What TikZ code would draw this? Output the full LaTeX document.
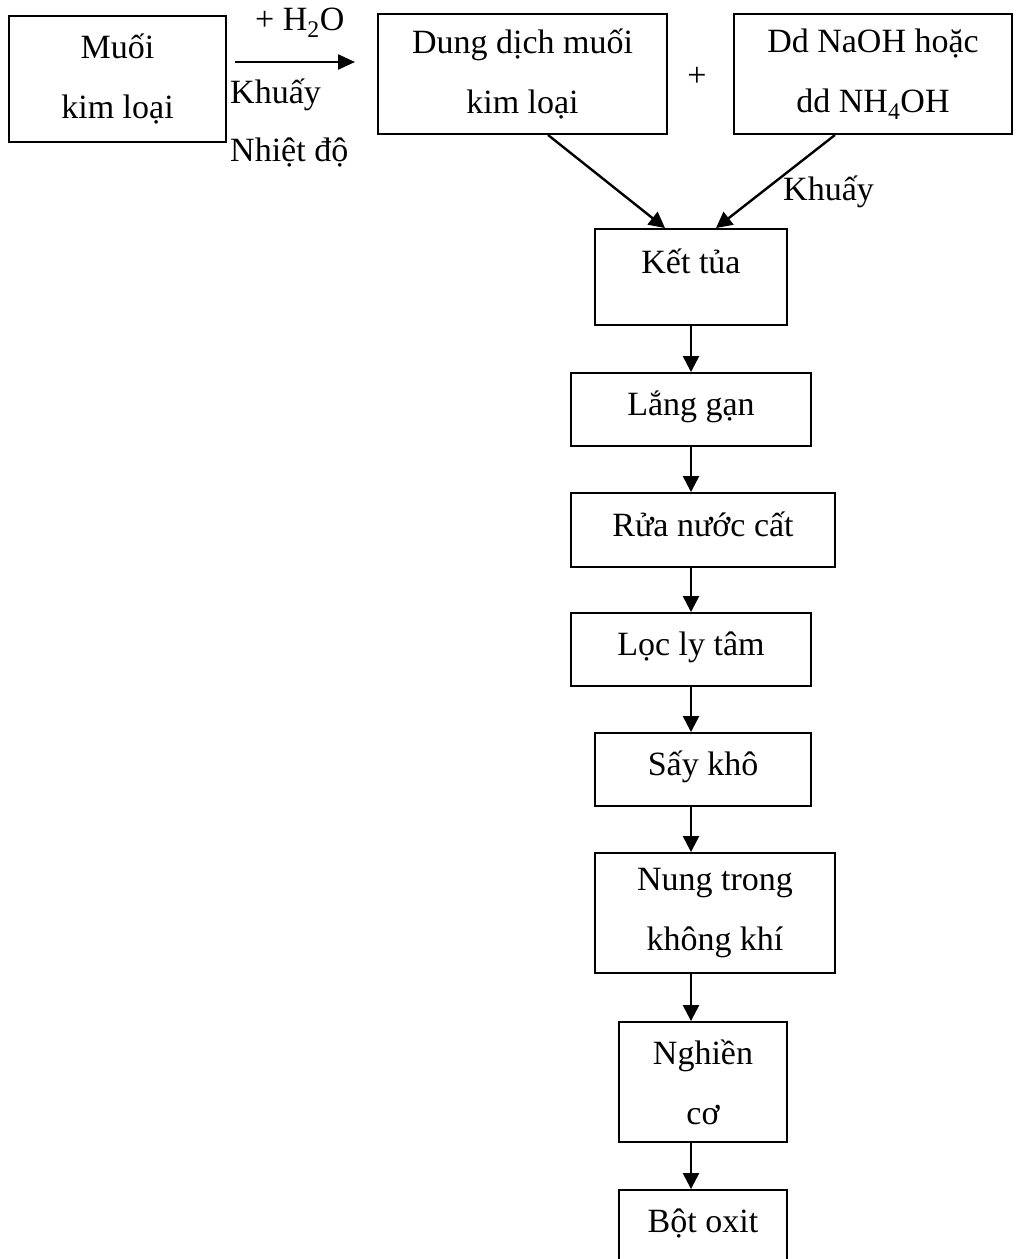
\documentclass[tikz,border=0pt]{standalone}
\usepackage{fontspec}
\setmainfont{Liberation Serif}
\usetikzlibrary{arrows.meta}

\begin{document}
\begin{tikzpicture}[x=1pt, y=-1pt,
    font=\fontsize{34}{60}\selectfont,
    box/.style={draw, line width=1.9pt, align=center, inner sep=0pt},
    oneline/.style={text height=22pt, text depth=10pt},
    flow/.style={line width=2.4pt, -{Triangle[length=16pt,width=16pt]}},
    lbl/.style={anchor=base west, inner sep=0pt}]
            \useasboundingbox (0,0) rectangle (1016,1259);

            % top row
            \node[box, minimum width=217pt, minimum height=126pt] (muoi) at (117.5,79) {Muối\\kim loại};
            \node[box, minimum width=289pt, minimum height=120pt] (dung) at (522.5,74) {Dung dịch muối\\kim loại};
            \node[box, minimum width=278pt, minimum height=120pt] (naoh) at (873,74) {Dd NaOH hoặc\\dd NH\textsubscript{4}OH};
            \node (plus) at (697,77) {+};

            \coordinate (h2oA) at (235,62);
            \coordinate (h2oB) at (355,62);
            \draw[flow, -{Triangle[length=17pt,width=15pt]}] (h2oA) -- (h2oB);
            \node[lbl] (water) at (255,30) {+ H\textsubscript{2}O};
            \node[lbl] (stirA) at (230,103) {Khuấy};
            \node[lbl] (heat) at (230,161) {Nhiệt độ};

            % column
            \node[box, minimum width=192pt, minimum height=96pt, text height=30pt, text depth=38pt] (ket) at (691,277) {Kết tủa};
            \node[box, oneline, minimum width=240pt, minimum height=73pt] (lang) at (691,409.5) {Lắng gạn};
            \node[box, oneline, minimum width=264pt, minimum height=74pt] (rua) at (703,530) {Rửa nước cất};
            \node[box, oneline, minimum width=240pt, minimum height=73pt] (loc) at (691,649.5) {Lọc ly tâm};
            \node[box, oneline, minimum width=216pt, minimum height=73pt] (say) at (703,769.5) {Sấy khô};
            \node[box, minimum width=240pt, minimum height=120pt] (nung) at (715,913) {Nung trong\\không khí};
            \node[box, minimum width=168pt, minimum height=120pt] (nghien) at (703,1082) {Nghiền\\cơ};
            \node[box, oneline, minimum width=168pt, minimum height=73pt] (bot) at (703,1226.5) {Bột oxit};

            \draw[flow] ([xshift=25.5pt]dung.south) -- ([xshift=-26pt]ket.north);
            \draw[flow] ([xshift=-38pt]naoh.south) -- ([xshift=25pt]ket.north);
            \node[lbl] (stirB) at (783,200) {Khuấy};

            \foreach \a/\b in {ket/lang, lang/rua, rua/loc, loc/say, say/nung, nung/nghien, nghien/bot}
              \draw[flow] (\a.south -| ket) -- (\b.north -| ket);
        \end{tikzpicture}
\end{document}
